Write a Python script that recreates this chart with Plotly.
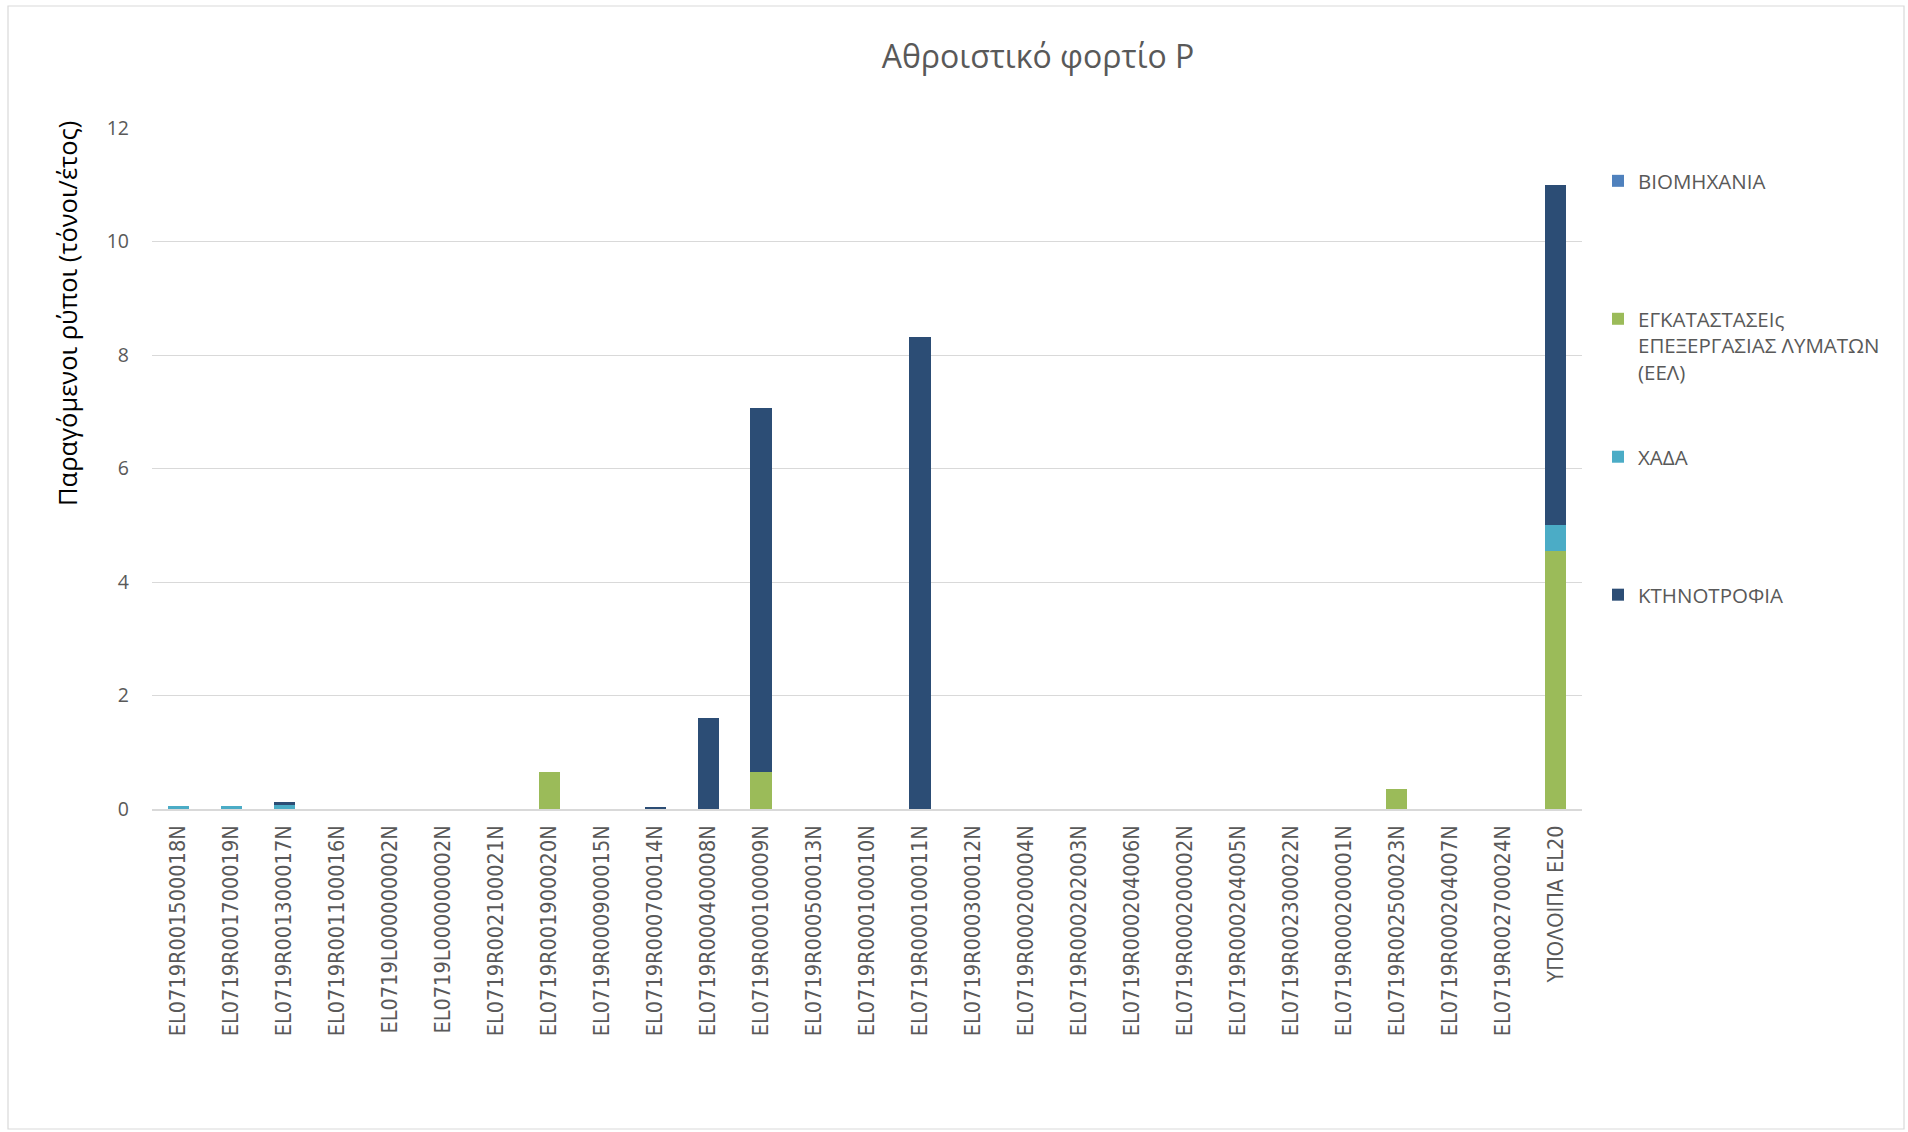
import plotly.graph_objects as go

categories = [
    "EL0719R001500018N", "EL0719R001700019N", "EL0719R001300017N", "EL0719R001100016N",
    "EL0719L000000002N", "EL0719L000000002N", "EL0719R002100021N", "EL0719R001900020N",
    "EL0719R000900015N", "EL0719R000700014N", "EL0719R000400008N", "EL0719R000100009N",
    "EL0719R000500013N", "EL0719R000100010N", "EL0719R000100011N", "EL0719R000300012N",
    "EL0719R000200004N", "EL0719R000202003N", "EL0719R000204006N", "EL0719R000200002N",
    "EL0719R000204005N", "EL0719R002300022N", "EL0719R000200001N", "EL0719R002500023N",
    "EL0719R000204007N", "EL0719R002700024N", "ΥΠΟΛΟΙΠΑ EL20",
]

viomichania = [0] * 27
eel = [0, 0, 0, 0, 0, 0, 0, 0.65, 0, 0, 0, 0.66, 0, 0, 0, 0, 0, 0, 0, 0, 0, 0, 0, 0.35, 0, 0, 4.55]
xada = [0.06, 0.06, 0.07, 0, 0, 0, 0, 0, 0, 0, 0, 0, 0, 0, 0, 0, 0, 0, 0, 0, 0, 0, 0, 0, 0, 0, 0.45]
ktinotrofia = [0, 0, 0.05, 0, 0, 0, 0, 0, 0, 0.04, 1.6, 6.4, 0, 0, 8.32, 0, 0, 0, 0, 0, 0, 0, 0, 0, 0, 0, 6.0]

y_ticks = [0, 2, 4, 6, 8, 10, 12]

series_names = [
    "ΒΙΟΜΗΧΑΝΙΑ<br> <br> ",
    "ΕΓΚΑΤΑΣΤΑΣΕΙς<br>ΕΠΕΞΕΡΓΑΣΙΑΣ ΛΥΜΑΤΩΝ<br>(ΕΕΛ)",
    "ΧΑΔΑ<br> <br> ",
    "ΚΤΗΝΟΤΡΟΦΙΑ<br> <br> ",
]
series_values = [viomichania, eel, xada, ktinotrofia]
series_colors = ["#4F81BD", "#9BBB59", "#4BACC6", "#2C4D75"]

x_pos = list(range(len(categories)))

fig = go.Figure()
for i, (name, vals, col) in enumerate(zip(series_names, series_values, series_colors)):
    fig.add_trace(go.Bar(
        x=x_pos, y=vals, name=name, marker=dict(color=col, line=dict(width=0)),
        legendgroup=f"g{i}",
    ))

W, H = 1908, 1132
ml, mr, mt, mb = 152, 326, 128, 323
pw = W - ml - mr
ph = H - mt - mb

fig.update_layout(
    width=W, height=H,
    barmode="stack", bargap=0.6,
    paper_bgcolor="white", plot_bgcolor="white",
    margin=dict(l=ml, r=mr, t=mt, b=mb, autoexpand=False),
    font=dict(family="Open Sans, Noto Sans, sans-serif", color="#595959"),
    title=dict(
        text="Αθροιστικό φορτίο P", x=1038 / W, xanchor="center",
        y=1 - 57 / H, yanchor="middle",
        font=dict(size=32, color="#595959", family="Open Sans, Noto Sans, sans-serif"),
    ),
    legend=dict(
        x=(1598 - ml) / pw, xanchor="left",
        y=(H - mb - 161) / ph, yanchor="top",
        traceorder="grouped", tracegroupgap=55, valign="top",
        font=dict(size=20.5, color="#595959"),
        bgcolor="rgba(0,0,0,0)",
    ),
    xaxis=dict(
        range=[-0.5, len(categories) - 0.5],
        tickmode="array", tickvals=x_pos, ticktext=categories,
        tickangle=-90, showgrid=False, zeroline=False,
        showline=True, linecolor="#d9d9d9", linewidth=1.5,
        ticks="", ticklabelstandoff=6,
        tickfont=dict(family="Liberation Sans Narrow, Arial Narrow, DejaVu Sans Condensed, sans-serif",
                      size=21.5, color="#595959"),
    ),
    yaxis=dict(
        range=[0, 12], tickmode="array", tickvals=y_ticks,
        showgrid=True, gridcolor="#d9d9d9", gridwidth=1.3,
        zeroline=False, showline=False, ticks="",
        ticklabelstandoff=22,
        tickfont=dict(size=19.5, color="#595959"),
    ),
    annotations=[dict(
        text="Παραγόμενοι ρύποι (τόνοι/έτος)", textangle=-90,
        xref="paper", yref="paper",
        x=(67 - ml) / pw, y=(H - mb - 314) / ph,
        xanchor="center", yanchor="middle", showarrow=False,
        font=dict(size=25.5, color="#000000"),
    )],
    shapes=[dict(
        type="rect", xref="paper", yref="paper",
        x0=(8 - ml) / pw, x1=(1904 - ml) / pw,
        y0=(H - mb - 1129) / ph, y1=(H - mb - 6) / ph,
        line=dict(color="#d9d9d9", width=1.2), fillcolor="rgba(0,0,0,0)", layer="below",
    )],
)

fig.write_html("out.html")
